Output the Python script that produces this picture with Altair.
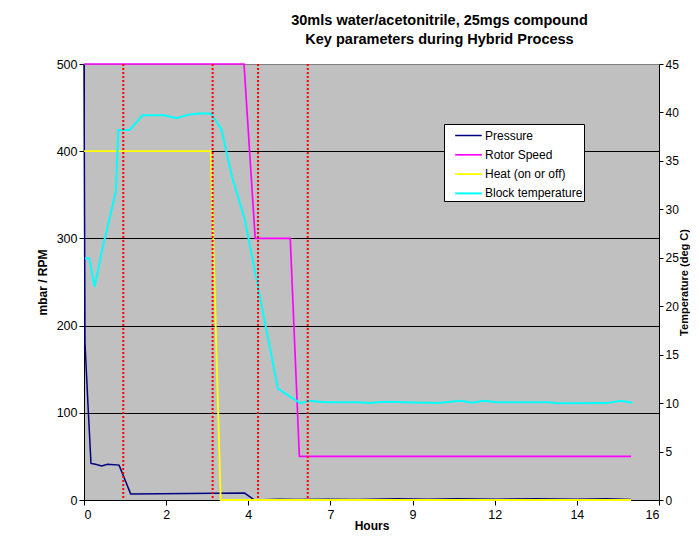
import json
import altair as alt
import pandas as pd

# ---------------- data ----------------
TITLE_LINES = ["30mls water/acetonitrile, 25mgs compound",
               "Key parameters during Hybrid Process"]
X_TICK_LABELS = ["0", "2", "4", "7", "9", "12", "14", "16"]
X_TICK_POS = [0, 1, 2, 3, 4, 5, 6, 7]
LEFT_TICKS = [0, 100, 200, 300, 400, 500]
RIGHT_TICKS = [0, 5, 10, 15, 20, 25, 30, 35, 40, 45]

SERIES = ["Pressure", "Rotor Speed", "Heat (on or off)", "Block temperature"]
COLORS = ["#000080", "#FF00FF", "#FFFF00", "#00FFFF"]
WIDTHS = [1.5, 2, 1.5, 2]

PRESSURE_X = [0.000, 0.012, 0.048, 0.085, 0.141, 0.214, 0.287, 0.427, 0.568,
              1.955, 2.076, 2.370, 2.611, 2.974, 3.337, 3.820, 4.183, 4.546,
              5.029, 5.513, 5.997, 6.359, 6.661]
PRESSURE_Y = [500, 180, 110, 42, 41, 39, 41, 40, 7,
              8, 0, 1, 0.5, 1, 0.5, 1.5, 1, 1.5,
              1, 1.5, 1, 1.5, 0.5]

ROTOR_X = [0.000, 1.948, 2.084, 2.511, 2.622, 6.661]
ROTOR_Y = [500, 500, 300, 300, 50, 50]

HEAT_X = [0.000, 1.543, 1.664, 6.661]
HEAT_Y = [400, 400, 0, 0]

TEMP_X = [0.012, 0.064, 0.129, 0.226, 0.387, 0.417, 0.556, 0.713, 0.979,
          1.124, 1.282, 1.403, 1.544, 1.672, 1.801, 1.959, 2.361, 2.632,
          2.732, 2.934, 3.337, 3.478, 3.660, 3.901, 4.304, 4.582, 4.727,
          4.868, 5.029, 5.654, 5.755, 6.359, 6.528, 6.673]
TEMP_Y = [24.95, 24.95, 22.0, 26.0, 31.8, 38.2, 38.2, 39.7, 39.7,
          39.4, 39.8, 39.9, 39.9, 38.3, 33.4, 28.9, 11.5, 10.0,
          10.25, 10.08, 10.1, 10.0, 10.15, 10.08, 10.0, 10.25, 10.05,
          10.25, 10.08, 10.08, 9.98, 10.0, 10.25, 10.04]

MARKER_X = [0.478, 1.566, 2.119, 2.724]

# ---------------- tables ----------------
rows = []
for name, xs, ys in [(SERIES[0], PRESSURE_X, PRESSURE_Y),
                     (SERIES[1], ROTOR_X, ROTOR_Y),
                     (SERIES[2], HEAT_X, HEAT_Y)]:
    for i, (x, y) in enumerate(zip(xs, ys)):
        rows.append({"pos": x, "value": y, "series": name, "seq": i})
left_df = pd.DataFrame(rows)
temp_df = pd.DataFrame({"pos": TEMP_X, "temp": TEMP_Y,
                        "series": SERIES[3], "seq": list(range(len(TEMP_X)))})
marker_df = pd.DataFrame({"pos": MARKER_X})

FONT = "Liberation Sans"
PLOT_W, PLOT_H = 575, 436

x_axis = alt.Axis(values=X_TICK_POS,
                  labelExpr=json.dumps(X_TICK_LABELS) + "[datum.value]",
                  grid=False, domainColor="black", tickColor="black", tickSize=5,
                  labelFont=FONT, labelFontSize=12.5, labelColor="black", labelPadding=3,
                  titleFont=FONT, titleFontSize=12, titleFontWeight="bold",
                  titleColor="black", titlePadding=0, zindex=0)
x_enc = alt.X("pos:Q", scale=alt.Scale(domain=[0, 7], nice=False, zero=False),
              axis=x_axis, title="Hours")

color_enc = alt.Color(
    "series:N",
    scale=alt.Scale(domain=SERIES, range=COLORS),
    legend=alt.Legend(orient="none", legendX=360, legendY=60, title=None,
                      fillColor="white", strokeColor="black", padding=1,
                      labelFont=FONT, labelFontSize=12, labelColor="black",
                      labelExpr="datum.label + '\u00a0\u00a0\u00a0\u00a0'",
                      symbolType="M-1.4,0L1.4,0", symbolSize=361, symbolStrokeWidth=2,
                      symbolOffset=13, labelOffset=6, rowPadding=2.3, labelLimit=300),
)

left_axis = alt.Axis(values=LEFT_TICKS, grid=True,
                     gridColor={"condition": {"test": "datum.value >= 500", "value": "#808080"},
                                "value": "#000000"},
                     gridWidth=1, domainColor="black", tickColor="black", tickSize=5,
                     labelFont=FONT, labelFontSize=12.5, labelColor="black", labelPadding=2,
                     titleFont=FONT, titleFontSize=12, titleFontWeight="bold",
                     titleColor="black", titlePadding=7, zindex=0)

right_axis = alt.Axis(values=RIGHT_TICKS, orient="right", grid=False,
                      domainColor="black", tickColor="black", tickSize=4,
                      labelFont=FONT, labelFontSize=12, labelColor="black", labelPadding=2,
                      titleFont=FONT, titleFontSize=11, titleFontWeight="bold",
                      titleColor="black", titlePadding=0, titleAngle=270,
                      titleBaseline="top", zindex=0)

left = alt.Chart(left_df).mark_line().encode(
    x=x_enc,
    y=alt.Y("value:Q", scale=alt.Scale(domain=[0, 500], nice=False),
            axis=left_axis, title="mbar / RPM"),
    color=color_enc,
    strokeWidth=alt.StrokeWidth("series:N", scale=alt.Scale(domain=SERIES, range=WIDTHS),
                                legend=None),
    order="seq:Q",
)

right = alt.Chart(temp_df).mark_line(strokeWidth=2).encode(
    x=x_enc,
    y=alt.Y("temp:Q", scale=alt.Scale(domain=[0, 45], nice=False),
            axis=right_axis, title="Temperature (deg C)"),
    color=color_enc,
    order="seq:Q",
)

markers = alt.Chart(marker_df).mark_rule(color="#FF0000", strokeWidth=2,
                                         strokeDash=[2, 2]).encode(x=x_enc)

chart = alt.layer(left, right, markers).resolve_scale(y="independent").properties(
    width=PLOT_W, height=PLOT_H,
    title=alt.TitleParams(text=TITLE_LINES, font=FONT, fontSize=14.5, fontWeight="bold",
                          color="black", anchor="middle", dx=68, offset=-3,
                          baseline="bottom", lineHeight=19),
    autosize=alt.AutoSizeParams(type="none"),
    padding={"left": 76, "top": 56, "right": 682 - 76 - PLOT_W, "bottom": 35},
    background="white",
).configure_view(fill="#C0C0C0", stroke="#808080", strokeWidth=1)

chart.save("out.html", embed_options={"renderer": "svg", "actions": False})
